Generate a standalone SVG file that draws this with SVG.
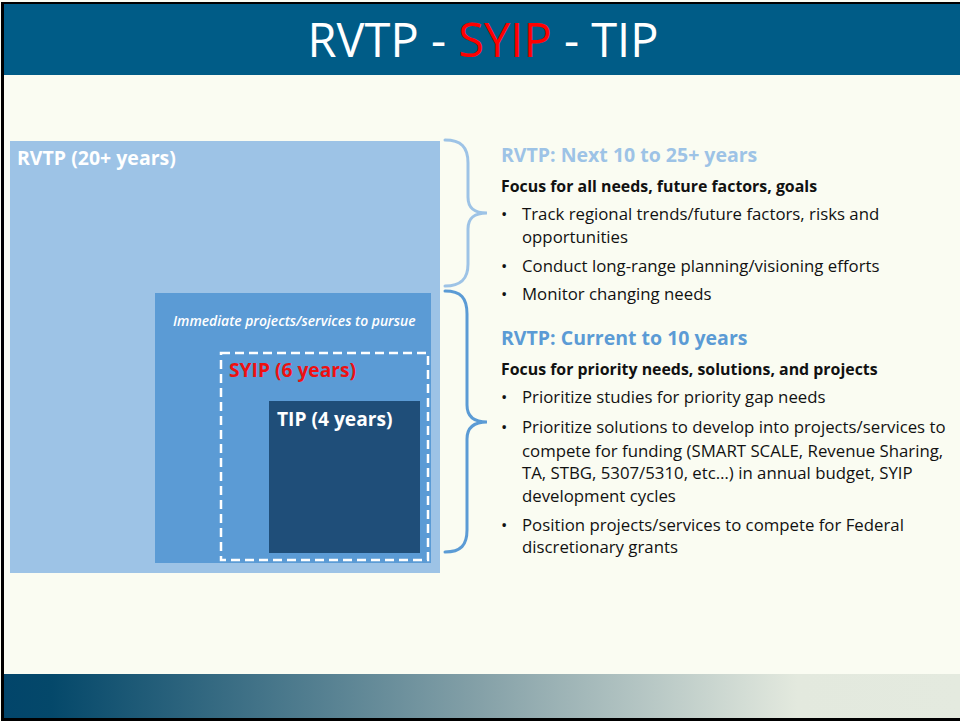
<svg xmlns="http://www.w3.org/2000/svg" width="960" height="721" viewBox="0 0 960 721">
<defs>
<linearGradient id="foot" x1="0" y1="0" x2="1" y2="0">
<stop offset="0" stop-color="#02456a"/>
<stop offset="0.05" stop-color="#04486a"/>
<stop offset="0.5" stop-color="#85a1a8"/>
<stop offset="0.83" stop-color="#e3e9de"/>
<stop offset="1" stop-color="#e4eadf"/>
</linearGradient>
<style>
.t{font-family:"Open Sans","Liberation Sans",sans-serif}
.b{font-weight:700}
.w{fill:#ffffff}
.k{fill:#111111}
.body{font-size:16.8px}
.sub{font-size:15.9px;font-weight:700}
.head{font-size:19.5px;font-weight:700}
.brace{fill:none;stroke-width:3;stroke-linecap:round}
</style>
</defs>
<rect x="0" y="0" width="960" height="721" fill="#fafcf2"/>
<g id="title">
<rect x="3" y="3" width="957" height="72" fill="#005c87"/>
<text class="t" x="483" y="57" font-size="47" text-anchor="middle" fill="#ffffff">RVTP - <tspan fill="#ff0000">SYIP</tspan> - TIP</text>
</g>
<g id="footer">
<rect x="3" y="674" width="957" height="44" fill="url(#foot)"/>
</g>
<g id="frame" fill="none" stroke="#000000">
<line x1="2.5" y1="2" x2="2.5" y2="720" stroke-width="3"/>
<line x1="1" y1="3" x2="960" y2="3" stroke-width="2"/>
<line x1="1" y1="719.5" x2="960" y2="719.5" stroke-width="3"/>
</g>
<g id="rvtp">
<rect x="10" y="141" width="430" height="432" fill="#9dc3e6"/>
<text class="t b w" x="17" y="165" font-size="19.5">RVTP (20+ years)</text>
</g>
<g id="immediate">
<rect x="155" y="293" width="276" height="270" fill="#5b9bd5"/>
<text class="t w" x="173" y="326" font-size="13.9" font-style="italic" font-weight="600">Immediate projects/services to pursue</text>
</g>
<g id="syip">
<rect x="221" y="353" width="207" height="207" fill="none" stroke="#ffffff" stroke-width="2.5" stroke-dasharray="9 5"/>
<text class="t b" x="229" y="377" font-size="19.2" fill="#ee1111">SYIP (6 years)</text>
</g>
<g id="tip">
<rect x="269" y="401" width="151" height="152" fill="#1f4e79"/>
<text class="t b w" x="277" y="426" font-size="19.2">TIP (4 years)</text>
</g>
<g id="connectors">
<path class="brace" stroke="#9dc3e6" d="M445,140 C461,140 468,147 468,163 L468,197 C468,208 474,213 487,213 C474,213 468,218 468,229 L468,264 C468,279 461,286 445,286"/>
<path class="brace" stroke="#5b9bd5" d="M445,291 C461,291 467,298 467,314 L467,405 C467,416 473,422 487,422 C473,422 467,428 467,439 L467,530 C467,545 461,552 445,552"/>
</g>
<g id="long-range">
<text class="t head" x="501" y="162" fill="#9dc3e6">RVTP: Next 10 to 25+ years</text>
<text class="t sub k" x="501" y="192">Focus for all needs, future factors, goals</text>
<g class="t body k">
<text x="501" y="220">•</text><text x="522" y="220">Track regional trends/future factors, risks and</text>
<text x="522" y="243">opportunities</text>
<text x="501" y="272">•</text><text x="522" y="272">Conduct long-range planning/visioning efforts</text>
<text x="501" y="300">•</text><text x="522" y="300">Monitor changing needs</text>
</g>
</g>
<g id="current">
<text class="t head" x="501" y="345" fill="#5b9bd5">RVTP: Current to 10 years</text>
<text class="t sub k" x="501" y="375">Focus for priority needs, solutions, and projects</text>
<g class="t body k">
<text x="501" y="403">•</text><text x="522" y="403">Prioritize studies for priority gap needs</text>
<text x="501" y="433">•</text><text x="522" y="433">Prioritize solutions to develop into projects/services to</text>
<text x="522" y="457">compete for funding (SMART SCALE, Revenue Sharing,</text>
<text x="522" y="479">TA, STBG, 5307/5310, etc…) in annual budget, SYIP</text>
<text x="522" y="502">development cycles</text>
<text x="501" y="531">•</text><text x="522" y="531">Position projects/services to compete for Federal</text>
<text x="522" y="553">discretionary grants</text>
</g>
</g>
</svg>
